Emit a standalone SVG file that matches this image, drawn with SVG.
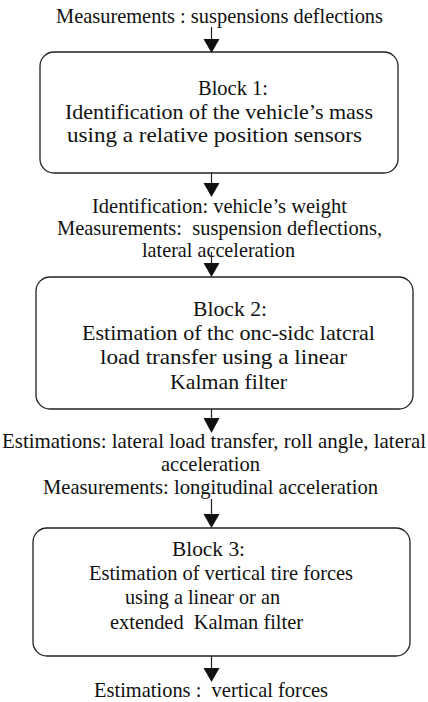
<svg xmlns="http://www.w3.org/2000/svg" width="428" height="702" viewBox="0 0 428 702">
<defs>
<style>
.box{fill:#fff;stroke:#222;stroke-width:1.3}
.wire{stroke:#222;stroke-width:1.2;fill:none}
.head{fill:#111}
</style>
</defs>
<rect width="428" height="702" fill="#fff"/>
<g font-family="'Liberation Serif', 'Times New Roman', serif" font-size="21" fill="#111">
<g id="labels">
<text x="56" y="23" textLength="327" lengthAdjust="spacingAndGlyphs">Measurements : suspensions deflections</text>
<text x="92" y="213" textLength="255" lengthAdjust="spacingAndGlyphs">Identification: vehicle’s weight</text>
<text x="57" y="235" textLength="325" lengthAdjust="spacingAndGlyphs" xml:space="preserve">Measurements:  suspension deflections,</text>
<text x="142" y="257" textLength="153" lengthAdjust="spacingAndGlyphs">lateral acceleration</text>
<text x="2" y="448" textLength="424" lengthAdjust="spacingAndGlyphs">Estimations: lateral load transfer, roll angle, lateral</text>
<text x="161" y="471" textLength="99" lengthAdjust="spacingAndGlyphs">acceleration</text>
<text x="43" y="494" textLength="335" lengthAdjust="spacingAndGlyphs">Measurements: longitudinal acceleration</text>
<text x="94" y="697" textLength="234" lengthAdjust="spacingAndGlyphs" xml:space="preserve">Estimations :  vertical forces</text>
</g>
<g id="block1">
<rect class="box" x="40" y="52" width="358" height="121" rx="14"/>
<text x="198" y="95" textLength="70" lengthAdjust="spacingAndGlyphs">Block 1:</text>
<text x="65" y="119" textLength="308" lengthAdjust="spacingAndGlyphs">Identification of the vehicle’s mass</text>
<text x="67" y="142" textLength="295" lengthAdjust="spacingAndGlyphs">using a relative position sensors</text>
</g>
<g id="block2">
<rect class="box" x="36" y="277" width="377" height="132" rx="14"/>
<text x="193" y="316" textLength="74" lengthAdjust="spacingAndGlyphs">Block 2:</text>
<text x="82" y="340" textLength="293" lengthAdjust="spacingAndGlyphs">Estimation of thc onc-sidc latcral</text>
<text x="100" y="364" textLength="247" lengthAdjust="spacingAndGlyphs">load transfer using a linear</text>
<text x="170" y="389" textLength="117" lengthAdjust="spacingAndGlyphs">Kalman filter</text>
</g>
<g id="block3">
<rect class="box" x="33" y="528" width="377" height="128" rx="14"/>
<text x="172" y="556" textLength="73" lengthAdjust="spacingAndGlyphs">Block 3:</text>
<text x="89" y="580" textLength="264" lengthAdjust="spacingAndGlyphs">Estimation of vertical tire forces</text>
<text x="125" y="604" textLength="155" lengthAdjust="spacingAndGlyphs">using a linear or an</text>
<text x="110" y="629" textLength="193" lengthAdjust="spacingAndGlyphs" xml:space="preserve">extended  Kalman filter</text>
</g>
</g>
<g id="connectors">
<line class="wire" x1="211.5" y1="27" x2="211.5" y2="40"/>
<polygon class="head" points="203.5,39 219.5,39 211.5,53"/>
<line class="wire" x1="211.5" y1="173" x2="211.5" y2="184"/>
<polygon class="head" points="203.5,183 219.5,183 211.5,197"/>
<line class="wire" x1="211.5" y1="252" x2="211.5" y2="264"/>
<polygon class="head" points="203.5,263 219.5,263 211.5,277"/>
<line class="wire" x1="211.5" y1="409" x2="211.5" y2="419"/>
<polygon class="head" points="203.5,418 219.5,418 211.5,433"/>
<line class="wire" x1="211.5" y1="499" x2="211.5" y2="515"/>
<polygon class="head" points="203.5,514 219.5,514 211.5,528"/>
<line class="wire" x1="211.5" y1="656" x2="211.5" y2="669"/>
<polygon class="head" points="203.5,668 219.5,668 211.5,682"/>
</g>
</svg>
